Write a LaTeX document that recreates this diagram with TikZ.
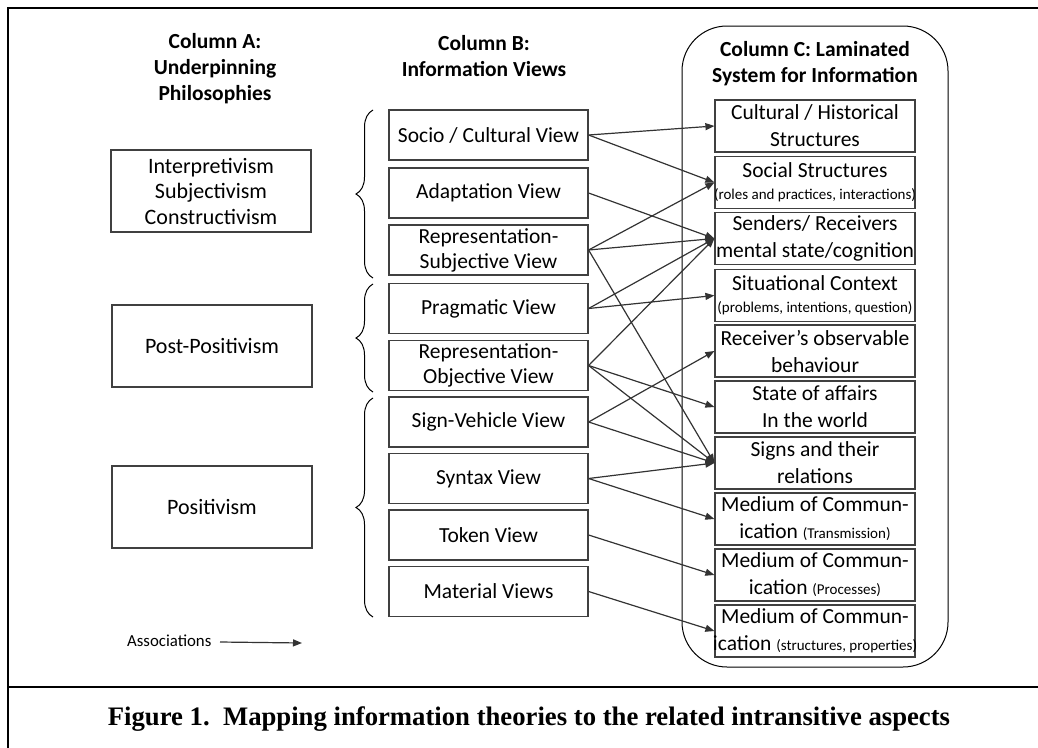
\documentclass[tikz,border=0pt]{standalone}
\usepackage{fontspec}
\setmainfont{Carlito}
\newfontfamily\capfont{Liberation Serif}
\usetikzlibrary{arrows.meta,decorations.pathreplacing}
\definecolor{ln}{HTML}{333333}
\definecolor{bx}{HTML}{404040}
\tikzset{
  bbox/.style={draw=bx,line width=1.2pt,minimum width=199pt,minimum height=50pt,inner sep=0pt,align=center,font=\fontsize{21.5}{25}\selectfont},
  cbox/.style={draw=bx,line width=1.2pt,minimum width=200pt,minimum height=52pt,inner sep=0pt,align=center,font=\fontsize{21.5}{27}\selectfont},
  abox/.style={draw=bx,line width=1.2pt,minimum width=200pt,minimum height=82pt,inner sep=0pt,align=center,font=\fontsize{22}{25.5}\selectfont},
  head/.style={align=center,font=\bfseries\fontsize{21.5}{26}\selectfont},
  assoc/.style={draw=ln,line width=1.2pt,-{Triangle[length=9pt,width=7pt]}},
  brc/.style={draw=black,line width=1pt,decorate,decoration={brace,amplitude=17pt}}
}
\newcommand{\smtxt}[1]{{\fontsize{15}{17}\selectfont #1}}
\newcommand{\fitline}[1]{\makebox[190pt][c]{#1}}
\begin{document}
\begin{tikzpicture}[x=1pt,y=-1pt]
\useasboundingbox (0,0) rectangle (1038,747);
% frame
\draw[line width=2pt] (8,760) -- (8,8) -- (1050,8);
\draw[line width=2pt] (8,687) -- (1050,687);
% container
\draw[line width=1pt,rounded corners=45pt] (682,26) rectangle (948,667);
% headers
\node[head] (ha) at (215,69) {Column A:\\Underpinning\\Philosophies};
\node[head] (hb) at (484,56) {Column B:\\Information Views};
\node[head] (hc) at (815,64) {Column C: Laminated\\System for Information};
% column A
\node[abox] (a1) at (211,191) {Interpretivism\\Subjectivism\\Constructivism};
\node[abox] (a2) at (212,346) {Post-Positivism};
\node[abox] (a3) at (212,507) {Positivism};
% column B
\node[bbox] (b1) at (488.5,135) {Socio / Cultural View};
\node[bbox] (b2) at (488.5,193) {Adaptation View};
\node[bbox] (b3) at (488.5,250) {Representation-\\Subjective View};
\node[bbox] (b4) at (488.5,308.5) {Pragmatic View};
\node[bbox] (b5) at (488.5,365.5) {Representation-\\Objective View};
\node[bbox] (b6) at (488.5,422) {Sign-Vehicle View};
\node[bbox] (b7) at (488.5,478.5) {Syntax View};
\node[bbox] (b8) at (488.5,535) {Token View};
\node[bbox] (b9) at (488.5,591.5) {Material Views};
% column C
\node[cbox] (c1) at (815,126) {Cultural / Historical\\Structures};
\node[cbox] (c2) at (815,182.5) {Social Structures\\[-5pt]\fitline{\smtxt{(roles and practices, interactions)}}};
\node[cbox] (c3) at (815,238.5) {Senders/ Receivers\\\fitline{mental state/cognition}};
\node[cbox] (c4) at (815,295.5) {Situational Context\\[-5pt]\fitline{\smtxt{(problems, intentions, question)}}};
\node[cbox] (c5) at (815,351) {Receiver’s observable\\behaviour};
\node[cbox] (c6) at (815,407) {State of affairs\\In the world};
\node[cbox] (c7) at (815,463) {Signs and their\\relations};
\node[cbox] (c8) at (815,519) {Medium of Commun-\\ication \smtxt{(Transmission)}};
\node[cbox] (c9) at (815,575) {Medium of Commun-\\ication \smtxt{(Processes)}};
\node[cbox] (c10) at (815,631) {Medium of Commun-\\\fitline{ication \smtxt{(structures, properties)}}};
% braces
\draw[brc] (373,278) -- (373,110);
\draw[brc] (373,392) -- (373,284);
\draw[brc] (373,617) -- (373,398);
% associations
\draw[assoc] (b1.east) -- (c1.west);
\draw[assoc] (b1.east) -- (c2.west);
\draw[assoc] (b2.east) -- (c3.west);
\draw[assoc] (b3.east) -- (c2.west);
\draw[assoc] (b3.east) -- (c3.west);
\draw[assoc] (b3.east) -- (c7.west);
\draw[assoc] (b4.east) -- (c3.west);
\draw[assoc] (b4.east) -- (c4.west);
\draw[assoc] (b5.east) -- (c3.west);
\draw[assoc] (b5.east) -- (c6.west);
\draw[assoc] (b5.east) -- (c7.west);
\draw[assoc] (b6.east) -- (c5.west);
\draw[assoc] (b6.east) -- (c7.west);
\draw[assoc] (b7.east) -- (c7.west);
\draw[assoc] (b7.east) -- (c8.west);
\draw[assoc] (b8.east) -- (c9.west);
\draw[assoc] (b9.east) -- (c10.west);
% legend
\node[font=\fontsize{16.8}{18}\selectfont,anchor=west,inner sep=0pt] (lg) at (127,641) {Associations};
\coordinate (lgs) at (220,642);
\coordinate (lge) at (302,643);
\draw[assoc] (lgs) -- (lge);
% caption
\node[font=\capfont\bfseries\fontsize{26.7}{30}\selectfont] (cap) at (529,719) {Figure 1.\ \ Mapping information theories to the related intransitive aspects};
\end{tikzpicture}
\end{document}
